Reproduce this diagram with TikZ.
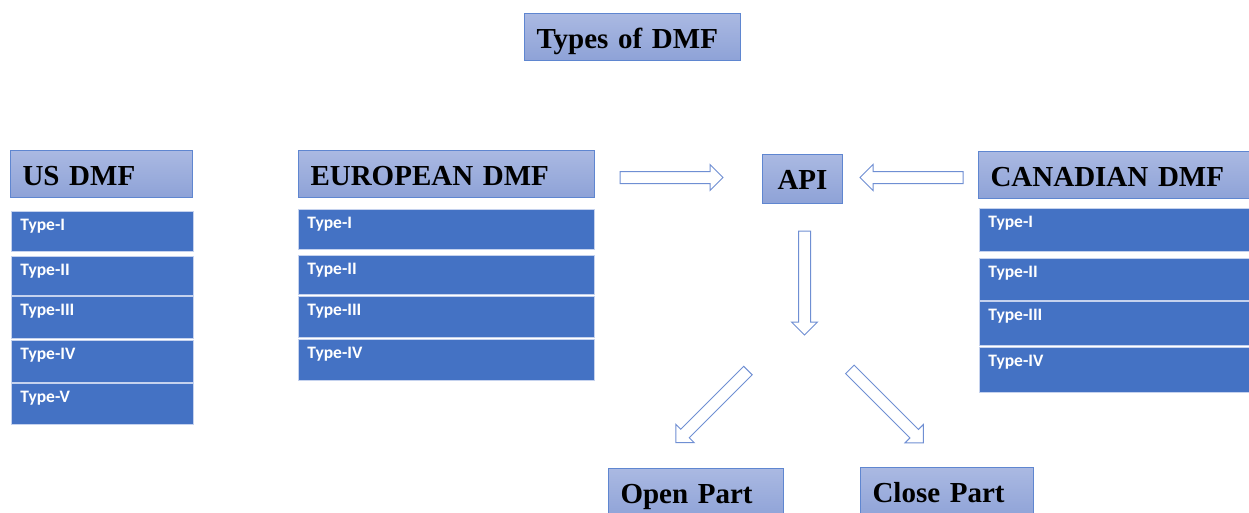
\documentclass[tikz,border=0pt]{standalone}
\usepackage{fontspec}
\setmainfont{Liberation Serif}
\newfontfamily\typefont{Carlito}
\usetikzlibrary{shapes.arrows}
\definecolor{hdtop}{HTML}{AAB9E2}
\definecolor{hdbot}{HTML}{8EA2D7}
\definecolor{hdline}{HTML}{5F86D0}
\definecolor{typefill}{HTML}{4472C4}
\definecolor{typeline}{HTML}{C5D2EE}
\definecolor{arrline}{HTML}{6F8FD3}

\begin{document}
\begin{tikzpicture}[x=1pt, y=-1pt,
    headbox/.style={draw=hdline, line width=1pt, top color=hdtop, bottom color=hdbot, anchor=north west,
      inner xsep=12pt, inner ysep=0pt, text height=35pt, text depth=12pt, align=left,
      font=\fontsize{29}{34}\selectfont\bfseries},
    typebox/.style={draw=typeline, line width=0.8pt, fill=typefill, anchor=north west, text=white,
      inner xsep=9pt, inner ysep=0pt, text height=19pt, align=left,
      font=\typefont\bfseries\fontsize{17.5}{20}\selectfont},
    blockarr/.style={single arrow, draw=arrline, fill=white, line width=1pt, minimum width=25pt,
      single arrow head extend=7pt, single arrow head indent=0pt, single arrow tip angle=90,
      inner xsep=0pt, inner ysep=5.5pt}]
    \useasboundingbox (0,0) rectangle (1249,512);
    \clip (0,0) rectangle (1249,512);

    \node[headbox, text width=192pt] (title) at (524,13) {Types of DMF};

    \node[headbox, text width=158pt] (ushead) at (10,150) {US DMF};
    \foreach \n/\t/\d [count=\i] in {I/211/21, II/256/20, III/296/23, IV/340/23, V/383/22}
        \node[typebox, text width=164pt, text depth=\d pt] (us\i) at (11,\t) {Type-\n};

    \node[headbox, text width=272pt] (euhead) at (298,150) {EUROPEAN DMF};
    \foreach \n/\t/\d [count=\i] in {I/209/21, II/255/20, III/296/22, IV/339/22}
        \node[typebox, text width=278pt, text depth=\d pt] (eu\i) at (298,\t) {Type-\n};

    \node[headbox, text width=266pt] (cahead) at (978,151) {CANADIAN DMF};
    \foreach \n/\t/\d [count=\i] in {I/208/24, II/258/23, III/301/25, IV/347/26}
        \node[typebox, text width=272pt, text depth=\d pt] (ca\i) at (979,\t) {Type-\n};

    \node[headbox, text width=56pt, align=center, text depth=14pt] (api) at (762,154) {API};

    \node[headbox, text width=151pt, text depth=16pt] (open) at (608,468) {Open Part};
    \node[headbox, text width=149pt, text depth=17pt] (close) at (860,467) {Close Part};

    \node[blockarr, minimum height=103pt] (arEu) at (668.5,177.5) {};
    \node[blockarr, minimum height=103pt, rotate=180] (arCa) at (914.5,177.5) {};
    \node[blockarr, minimum height=104pt, rotate=-90] (arDown) at (804.5,280) {};
    \node[blockarr, minimum height=102pt, rotate=225] (arOpen) at (714,404.5) {};
    \node[blockarr, minimum height=104pt, rotate=-45] (arClose) at (884.5,404) {};
\end{tikzpicture}
\end{document}
